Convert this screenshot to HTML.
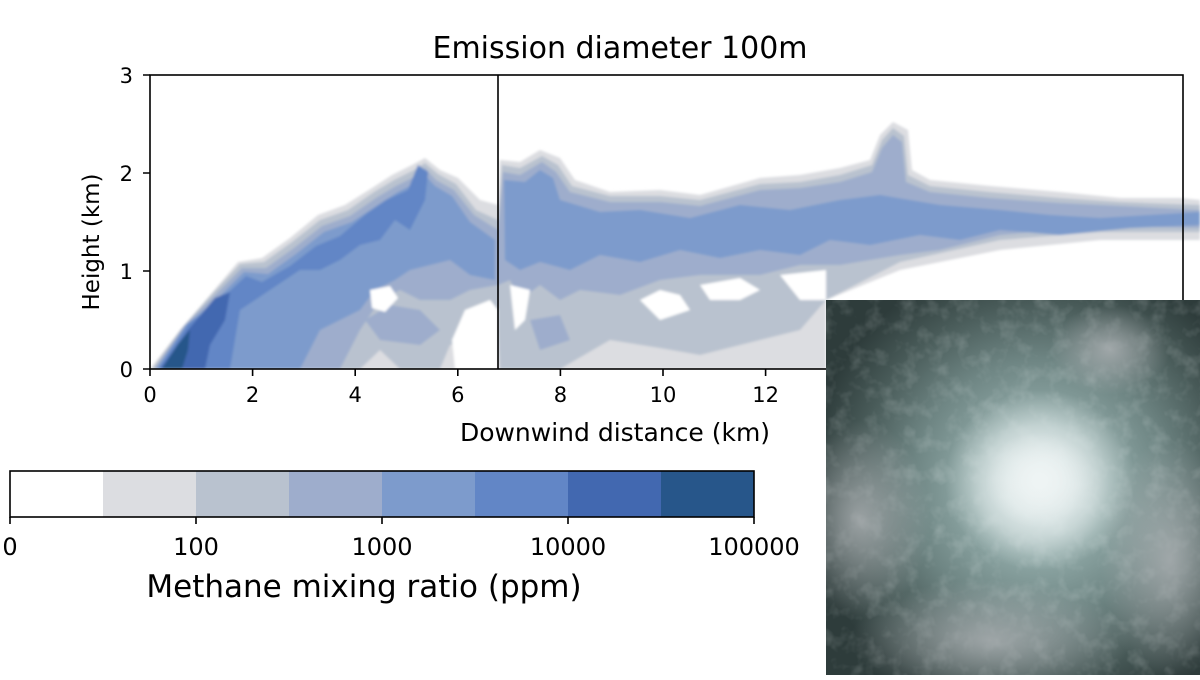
<!DOCTYPE html>
<html><head><meta charset="utf-8"><style>
body{margin:0;width:1200px;height:675px;background:#fff;overflow:hidden;font-family:"Liberation Sans","DejaVu Sans",sans-serif}
</style></head><body>
<svg width="1200" height="675" viewBox="0 0 1200 675" xmlns="http://www.w3.org/2000/svg" font-family="DejaVu Sans, Liberation Sans, sans-serif">
<defs>
<filter id="b" x="-5%" y="-5%" width="110%" height="110%"><feGaussianBlur stdDeviation="1.2"/></filter>
<filter id="n" x="0" y="0" width="100%" height="100%"><feTurbulence type="fractalNoise" baseFrequency="0.06" numOctaves="3" seed="3"/><feColorMatrix type="matrix" values="0 0 0 0 0.85 0 0 0 0 0.9 0 0 0 0 0.9 0 0 0 1.2 -0.55"/></filter>
<clipPath id="ax"><rect x="150" y="75" width="1050" height="294"/></clipPath>
<radialGradient id="ph" cx="0.57" cy="0.5" r="0.62">
<stop offset="0" stop-color="#dfe8e8"/><stop offset="0.13" stop-color="#c4d4d4"/><stop offset="0.3" stop-color="#8fa8a6"/><stop offset="0.55" stop-color="#6e8583"/><stop offset="0.8" stop-color="#485a58"/><stop offset="1" stop-color="#2e3c3b"/></radialGradient>
<radialGradient id="fog" cx="0.5" cy="0.5" r="0.5"><stop offset="0" stop-color="#b5b8bb" stop-opacity="0.75"/><stop offset="1" stop-color="#b5b8bb" stop-opacity="0"/></radialGradient>
<radialGradient id="ctr" cx="0.5" cy="0.5" r="0.5"><stop offset="0" stop-color="#f0f5f5" stop-opacity="0.95"/><stop offset="0.6" stop-color="#dfe9e9" stop-opacity="0.6"/><stop offset="1" stop-color="#dfe9e9" stop-opacity="0"/></radialGradient>
<radialGradient id="ctr2" cx="0.5" cy="0.5" r="0.5"><stop offset="0" stop-color="#eef4f4" stop-opacity="0.9"/><stop offset="1" stop-color="#eef4f4" stop-opacity="0"/></radialGradient>
<clipPath id="pc"><rect x="826" y="300" width="374" height="375"/></clipPath>
</defs>
<text x="620" y="58" font-size="30" text-anchor="middle" fill="#000">Emission diameter 100m</text>
<g clip-path="url(#ax)" filter="url(#b)">
<path fill="#dcdde1" d="M150,369 L180,330 L210,295 L238,262 L262,258 L290,238 L318,215 L345,205 L372,188 L392,175 L412,165 L425,158 L440,170 L458,178 L480,200 L498,205 L500,160 L520,162 L540,150 L560,158 L575,180 L610,192 L660,190 L700,195 L760,178 L800,175 L840,168 L870,160 L880,135 L893,122 L908,130 L912,170 L930,180 L990,186 L1060,192 L1120,198 L1180,198 L1200,200 L1200,240 L1100,240 L1000,250 L900,270 L826,300 L826,369 Z"/>
<path fill="#b9c2cf" d="M152,369 L182,328 L212,294 L240,264 L264,262 L292,242 L320,220 L348,210 L374,192 L394,180 L414,170 L425,163 L438,174 L456,184 L476,210 L498,220 L502,165 L520,168 L542,156 L558,165 L572,186 L610,196 L660,196 L700,200 L760,184 L800,182 L840,175 L872,165 L882,140 L893,128 L904,136 L908,175 L930,186 L990,192 L1060,198 L1120,202 L1200,205 L1200,232 L1100,232 L1000,240 L900,262 L826,300 L800,330 L740,345 L700,355 L660,348 L610,340 L560,369 L500,369 L498,330 L480,320 L470,340 L450,345 L440,369 L400,369 L380,350 L360,369 Z"/>
<path fill="#9eadcc" d="M154,369 L184,326 L214,296 L242,268 L266,268 L294,248 L322,226 L350,216 L376,198 L396,186 L416,176 L425,168 L436,180 L454,190 L474,215 L498,230 L503,172 L520,175 L542,162 L556,172 L570,192 L610,202 L660,202 L700,206 L760,190 L800,188 L840,182 L872,172 L882,148 L893,135 L902,142 L906,182 L930,192 L990,198 L1060,203 L1200,210 L1200,228 L1100,226 L1000,235 L940,250 L900,255 L840,265 L800,265 L760,275 L700,275 L660,280 L620,295 L580,290 L560,300 L540,285 L520,300 L510,280 L498,285 L470,290 L450,300 L420,300 L400,290 L380,300 L360,330 L340,369 Z"/>
<path fill="#9eadcc" d="M365,320 L390,305 L420,310 L440,330 L420,345 L380,340 Z M530,320 L560,315 L570,340 L540,350 Z"/>
<path fill="#7d9bcc" d="M156,369 L186,325 L216,300 L244,272 L268,274 L296,254 L324,232 L352,222 L378,205 L398,192 L418,182 L425,175 L435,186 L452,196 L470,222 L495,240 L495,280 L470,275 L450,260 L430,265 L410,270 L395,280 L375,290 L360,310 L320,330 L300,369 Z"/>
<path fill="#7d9bcc" d="M504,180 L525,182 L540,170 L553,178 L560,200 L600,212 L640,210 L690,218 L740,205 L790,210 L840,200 L880,195 L940,205 L1000,210 L1050,215 L1100,218 L1150,215 L1200,212 L1200,225 L1130,228 L1060,235 L1000,230 L960,240 L920,235 L870,245 L830,240 L800,255 L760,250 L720,258 L680,250 L640,262 L600,255 L570,270 L540,262 L520,270 L505,260 Z"/>
<path fill="#6286c6" d="M158,369 L188,324 L218,302 L246,276 L262,282 L290,266 L316,246 L340,236 L366,214 L386,200 L408,190 L418,165 L428,172 L425,200 L410,230 L395,220 L380,240 L360,245 L340,260 L320,270 L300,270 L270,290 L240,310 L230,369 Z"/>
<path fill="#4268b0" d="M160,369 L188,330 L215,298 L230,292 L225,320 L210,345 L205,369 Z"/>
<path fill="#27568a" d="M162,369 L178,344 L190,330 L188,350 L182,369 Z"/>
<g fill="#fff">
<path d="M465,310 L490,300 L498,310 L498,369 L455,369 L452,340 Z"/>
<path d="M370,290 L390,286 L398,298 L385,312 L372,308 Z"/>
<path d="M510,285 L530,290 L525,320 L515,330 Z"/>
<path d="M640,300 L660,290 L680,295 L690,310 L660,320 Z"/>
<path d="M700,285 L740,278 L760,290 L740,300 L710,300 Z"/>
<path d="M780,275 L826,270 L826,300 L800,300 Z"/>
</g>
</g>
<g fill="none" stroke="#000" stroke-width="1.6">
<rect x="150" y="75" width="1033" height="294"/>
<line x1="498" y1="75" x2="498" y2="369"/>
<path d="M150,369v7M252.6,369v7M355.2,369v7M457.8,369v7M560.4,369v7M663,369v7M765.6,369v7M150,369h-7M150,271h-7M150,173h-7M150,75h-7"/>
</g>
<g font-size="21" fill="#000" text-anchor="middle">
<text x="150" y="402">0</text><text x="252.6" y="402">2</text><text x="355.2" y="402">4</text><text x="457.8" y="402">6</text><text x="560.4" y="402">8</text><text x="663" y="402">10</text><text x="765.6" y="402">12</text>
</g>
<g font-size="21" fill="#000" text-anchor="end">
<text x="133" y="377">0</text><text x="133" y="279">1</text><text x="133" y="181">2</text><text x="133" y="83">3</text>
</g>
<text x="615" y="441" font-size="25" text-anchor="middle">Downwind distance (km)</text>
<text transform="translate(99,242) rotate(-90)" font-size="23" text-anchor="middle">Height (km)</text>
<g>
<rect x="10" y="471" width="93" height="46" fill="#fff"/>
<rect x="103" y="471" width="93" height="46" fill="#dcdde1"/>
<rect x="196" y="471" width="93" height="46" fill="#b9c2cf"/>
<rect x="289" y="471" width="93" height="46" fill="#9eadcc"/>
<rect x="382" y="471" width="93" height="46" fill="#7d9bcc"/>
<rect x="475" y="471" width="93" height="46" fill="#6286c6"/>
<rect x="568" y="471" width="93" height="46" fill="#4268b0"/>
<rect x="661" y="471" width="93" height="46" fill="#27568a"/>
<rect x="10" y="471" width="744" height="46" fill="none" stroke="#000" stroke-width="1.6"/>
<path d="M10,517v7M196,517v7M382,517v7M568,517v7M754,517v7" stroke="#000" stroke-width="1.6"/>
</g>
<g font-size="24" text-anchor="middle">
<text x="10" y="555">0</text><text x="196" y="555">100</text><text x="382" y="555">1000</text><text x="568" y="555">10000</text><text x="754" y="555">100000</text>
</g>
<text x="364" y="597" font-size="31" text-anchor="middle">Methane mixing ratio (ppm)</text>
<g clip-path="url(#pc)">
<rect x="826" y="300" width="374" height="375" fill="url(#ph)"/>
<rect x="826" y="300" width="374" height="375" filter="url(#n)" opacity="0.35"/>
<ellipse cx="1040" cy="480" rx="95" ry="90" fill="url(#ctr)"/>
<ellipse cx="860" cy="520" rx="70" ry="100" fill="url(#fog)"/>
<ellipse cx="1170" cy="560" rx="70" ry="120" fill="url(#fog)"/>
<ellipse cx="990" cy="640" rx="140" ry="60" fill="url(#fog)"/>
<ellipse cx="1110" cy="350" rx="60" ry="45" fill="url(#fog)"/>
<ellipse cx="1040" cy="480" rx="55" ry="48" fill="url(#ctr2)"/>
</g>
</svg>
</body></html>
